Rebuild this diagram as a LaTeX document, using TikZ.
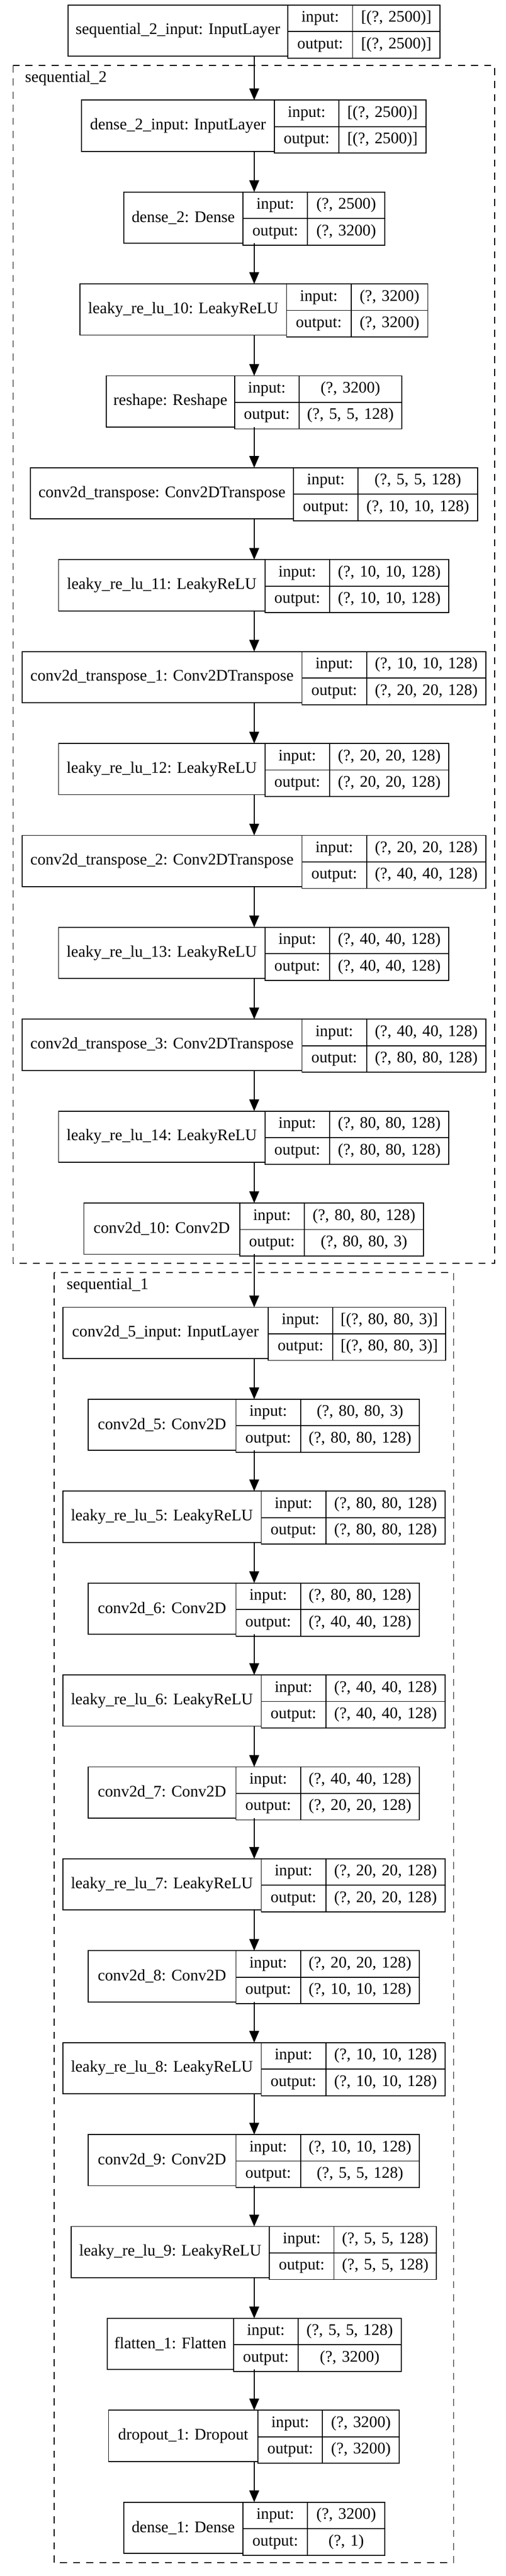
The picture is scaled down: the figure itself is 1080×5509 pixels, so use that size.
\documentclass[tikz,border=0pt]{standalone}
\usepackage{fontspec}
\setmainfont{Liberation Serif}
\usepackage{tikz}
\usetikzlibrary{shapes.multipart, arrows.meta}

\newcommand{\inout}{\strut input:\nodepart{two}\strut output:}

\begin{document}
\begin{tikzpicture}
			[x=0.5pt, y=-0.5pt,
			every node/.style={font=\fontsize{17.25pt}{20pt}\selectfont, line width=1pt, outer sep=0pt},
			layer/.style={draw, anchor=north west, inner sep=0pt, minimum height=54.75pt},
			io/.style={draw, anchor=north west, rectangle split, rectangle split parts=2, inner xsep=0pt, inner ysep=3.6875pt, text width=69pt, align=center},
			dims/.style={io},
			cluster/.style={line width=1pt, dash pattern=on 7.5pt off 6.5pt},
			arr/.style={line width=1pt, -{Stealth[length=12.5pt, width=10.5pt, inset=0pt]}}]
			\fill[white] (0,0) rectangle (1080,5509);
			\coordinate (axis) at (543,0);
			\begin{scope}
				\draw[cluster] (28,140) rectangle (1057,2701.7);
				\node[anchor=base west] (s2label) at (47,175.7) {sequential\_2};
				\draw[cluster] (116,2721) rectangle (969,5480.7);
				\node[anchor=base west] (s1label) at (136,2757) {sequential\_1};
			\end{scope}
			\node[layer, minimum width=235pt] (s2in) at (145,10.7) {sequential\_2\_input: InputLayer};
			\node[io] (s2inio) at (s2in.north east) {\inout};
			\node[dims, text width=93.5pt] (s2insh) at (s2inio.north east) {\strut [(?, 2500)]\nodepart{two}\strut [(?, 2500)]};
			\node[layer, minimum width=205.75pt] (d2in) at (174.5,214) {dense\_2\_input: InputLayer};
			\node[io] (d2inio) at (d2in.north east) {\inout};
			\node[dims, text width=93pt] (d2insh) at (d2inio.north east) {\strut [(?, 2500)]\nodepart{two}\strut [(?, 2500)]};
			\node[layer, minimum width=127.5pt] (d2) at (264,410.56) {dense\_2: Dense};
			\node[io] (d2io) at (d2.north east) {\inout};
			\node[dims, text width=82.5pt] (d2sh) at (d2io.north east) {\strut (?, 2500)\nodepart{two}\strut (?, 3200)};
			\node[layer, minimum width=220.5pt] (lr10) at (171,607.12) {leaky\_re\_lu\_10: LeakyReLU};
			\node[io] (lr10io) at (lr10.north east) {\inout};
			\node[dims, text width=82pt] (lr10sh) at (lr10io.north east) {\strut (?, 3200)\nodepart{two}\strut (?, 3200)};
			\node[layer, minimum width=137pt] (rs) at (227,803.68) {reshape: Reshape};
			\node[io] (rsio) at (rs.north east) {\inout};
			\node[dims, text width=109.5pt] (rssh) at (rsio.north east) {\strut (?, 3200)\nodepart{two}\strut (?, 5, 5, 128)};
			\node[layer, minimum width=281pt] (ct0) at (65,1000.24) {conv2d\_transpose: Conv2DTranspose};
			\node[io] (ct0io) at (ct0.north east) {\inout};
			\node[dims, text width=127.5pt] (ct0sh) at (ct0io.north east) {\strut (?, 5, 5, 128)\nodepart{two}\strut (?, 10, 10, 128)};
			\node[layer, minimum width=220.5pt] (lr11) at (125,1196.8) {leaky\_re\_lu\_11: LeakyReLU};
			\node[io] (lr11io) at (lr11.north east) {\inout};
			\node[dims, text width=127.5pt] (lr11sh) at (lr11io.north east) {\strut (?, 10, 10, 128)\nodepart{two}\strut (?, 10, 10, 128)};
			\node[layer, minimum width=299pt] (ct1) at (47,1393.36) {conv2d\_transpose\_1: Conv2DTranspose};
			\node[io] (ct1io) at (ct1.north east) {\inout};
			\node[dims, text width=127.5pt] (ct1sh) at (ct1io.north east) {\strut (?, 10, 10, 128)\nodepart{two}\strut (?, 20, 20, 128)};
			\node[layer, minimum width=220.5pt] (lr12) at (125,1589.92) {leaky\_re\_lu\_12: LeakyReLU};
			\node[io] (lr12io) at (lr12.north east) {\inout};
			\node[dims, text width=127.5pt] (lr12sh) at (lr12io.north east) {\strut (?, 20, 20, 128)\nodepart{two}\strut (?, 20, 20, 128)};
			\node[layer, minimum width=299pt] (ct2) at (47,1786.48) {conv2d\_transpose\_2: Conv2DTranspose};
			\node[io] (ct2io) at (ct2.north east) {\inout};
			\node[dims, text width=127.5pt] (ct2sh) at (ct2io.north east) {\strut (?, 20, 20, 128)\nodepart{two}\strut (?, 40, 40, 128)};
			\node[layer, minimum width=220.5pt] (lr13) at (125,1983.04) {leaky\_re\_lu\_13: LeakyReLU};
			\node[io] (lr13io) at (lr13.north east) {\inout};
			\node[dims, text width=127.5pt] (lr13sh) at (lr13io.north east) {\strut (?, 40, 40, 128)\nodepart{two}\strut (?, 40, 40, 128)};
			\node[layer, minimum width=299pt] (ct3) at (47,2179.6) {conv2d\_transpose\_3: Conv2DTranspose};
			\node[io] (ct3io) at (ct3.north east) {\inout};
			\node[dims, text width=127.5pt] (ct3sh) at (ct3io.north east) {\strut (?, 40, 40, 128)\nodepart{two}\strut (?, 80, 80, 128)};
			\node[layer, minimum width=220.5pt] (lr14) at (125,2376.16) {leaky\_re\_lu\_14: LeakyReLU};
			\node[io] (lr14io) at (lr14.north east) {\inout};
			\node[dims, text width=127.5pt] (lr14sh) at (lr14io.north east) {\strut (?, 80, 80, 128)\nodepart{two}\strut (?, 80, 80, 128)};
			\node[layer, minimum width=166.5pt] (c10) at (179,2572.72) {conv2d\_10: Conv2D};
			\node[io] (c10io) at (c10.north east) {\inout};
			\node[dims, text width=127.5pt] (c10sh) at (c10io.north east) {\strut (?, 80, 80, 128)\nodepart{two}\strut (?, 80, 80, 3)};
			\node[layer, minimum width=219.5pt] (c5in) at (134,2795.7) {conv2d\_5\_input: InputLayer};
			\node[io] (c5inio) at (c5in.north east) {\inout};
			\node[dims, text width=120.5pt] (c5insh) at (c5inio.north east) {\strut [(?, 80, 80, 3)]\nodepart{two}\strut [(?, 80, 80, 3)]};
			\node[layer, minimum width=158pt] (c5) at (188,2992.26) {conv2d\_5: Conv2D};
			\node[io] (c5io) at (c5.north east) {\inout};
			\node[dims, text width=127pt] (c5sh) at (c5io.north east) {\strut (?, 80, 80, 3)\nodepart{two}\strut (?, 80, 80, 128)};
			\node[layer, minimum width=212pt] (lr5) at (134,3188.82) {leaky\_re\_lu\_5: LeakyReLU};
			\node[io] (lr5io) at (lr5.north east) {\inout};
			\node[dims, text width=127.5pt] (lr5sh) at (lr5io.north east) {\strut (?, 80, 80, 128)\nodepart{two}\strut (?, 80, 80, 128)};
			\node[layer, minimum width=158pt] (c6) at (188,3385.38) {conv2d\_6: Conv2D};
			\node[io] (c6io) at (c6.north east) {\inout};
			\node[dims, text width=127pt] (c6sh) at (c6io.north east) {\strut (?, 80, 80, 128)\nodepart{two}\strut (?, 40, 40, 128)};
			\node[layer, minimum width=212pt] (lr6) at (134,3581.94) {leaky\_re\_lu\_6: LeakyReLU};
			\node[io] (lr6io) at (lr6.north east) {\inout};
			\node[dims, text width=127.5pt] (lr6sh) at (lr6io.north east) {\strut (?, 40, 40, 128)\nodepart{two}\strut (?, 40, 40, 128)};
			\node[layer, minimum width=158pt] (c7) at (188,3778.5) {conv2d\_7: Conv2D};
			\node[io] (c7io) at (c7.north east) {\inout};
			\node[dims, text width=127pt] (c7sh) at (c7io.north east) {\strut (?, 40, 40, 128)\nodepart{two}\strut (?, 20, 20, 128)};
			\node[layer, minimum width=212pt] (lr7) at (134,3975.06) {leaky\_re\_lu\_7: LeakyReLU};
			\node[io] (lr7io) at (lr7.north east) {\inout};
			\node[dims, text width=127.5pt] (lr7sh) at (lr7io.north east) {\strut (?, 20, 20, 128)\nodepart{two}\strut (?, 20, 20, 128)};
			\node[layer, minimum width=158pt] (c8) at (188,4171.62) {conv2d\_8: Conv2D};
			\node[io] (c8io) at (c8.north east) {\inout};
			\node[dims, text width=127pt] (c8sh) at (c8io.north east) {\strut (?, 20, 20, 128)\nodepart{two}\strut (?, 10, 10, 128)};
			\node[layer, minimum width=212pt] (lr8) at (134,4368.18) {leaky\_re\_lu\_8: LeakyReLU};
			\node[io] (lr8io) at (lr8.north east) {\inout};
			\node[dims, text width=127.5pt] (lr8sh) at (lr8io.north east) {\strut (?, 10, 10, 128)\nodepart{two}\strut (?, 10, 10, 128)};
			\node[layer, minimum width=158pt] (c9) at (188,4564.74) {conv2d\_9: Conv2D};
			\node[io] (c9io) at (c9.north east) {\inout};
			\node[dims, text width=127pt] (c9sh) at (c9io.north east) {\strut (?, 10, 10, 128)\nodepart{two}\strut (?, 5, 5, 128)};
			\node[layer, minimum width=211.75pt] (lr9) at (152,4761.3) {leaky\_re\_lu\_9: LeakyReLU};
			\node[io] (lr9io) at (lr9.north east) {\inout};
			\node[dims, text width=109.5pt] (lr9sh) at (lr9io.north east) {\strut (?, 5, 5, 128)\nodepart{two}\strut (?, 5, 5, 128)};
			\node[layer, minimum width=135pt] (fl1) at (229,4957.86) {flatten\_1: Flatten};
			\node[io] (fl1io) at (fl1.north east) {\inout};
			\node[dims, text width=110pt] (fl1sh) at (fl1io.north east) {\strut (?, 5, 5, 128)\nodepart{two}\strut (?, 3200)};
			\node[layer, minimum width=159.5pt] (do1) at (232,5154.42) {dropout\_1: Dropout};
			\node[io] (do1io) at (do1.north east) {\inout};
			\node[dims, text width=82pt] (do1sh) at (do1io.north east) {\strut (?, 3200)\nodepart{two}\strut (?, 3200)};
			\node[layer, minimum width=127.5pt] (d1) at (264,5350.98) {dense\_1: Dense};
			\node[io] (d1io) at (d1.north east) {\inout};
			\node[dims, text width=82.5pt] (d1sh) at (d1io.north east) {\strut (?, 3200)\nodepart{two}\strut (?, 1)};
			\begin{scope}[arr]
				\draw (s2in.south -| axis) -- (d2in.north -| axis);
				\draw (d2in.south -| axis) -- (d2.north -| axis);
				\draw (d2.south -| axis) -- (lr10.north -| axis);
				\draw (lr10.south -| axis) -- (rs.north -| axis);
				\draw (rs.south -| axis) -- (ct0.north -| axis);
				\draw (ct0.south -| axis) -- (lr11.north -| axis);
				\draw (lr11.south -| axis) -- (ct1.north -| axis);
				\draw (ct1.south -| axis) -- (lr12.north -| axis);
				\draw (lr12.south -| axis) -- (ct2.north -| axis);
				\draw (ct2.south -| axis) -- (lr13.north -| axis);
				\draw (lr13.south -| axis) -- (ct3.north -| axis);
				\draw (ct3.south -| axis) -- (lr14.north -| axis);
				\draw (lr14.south -| axis) -- (c10.north -| axis);
				\draw (c10.south -| axis) -- (c5in.north -| axis);
				\draw (c5in.south -| axis) -- (c5.north -| axis);
				\draw (c5.south -| axis) -- (lr5.north -| axis);
				\draw (lr5.south -| axis) -- (c6.north -| axis);
				\draw (c6.south -| axis) -- (lr6.north -| axis);
				\draw (lr6.south -| axis) -- (c7.north -| axis);
				\draw (c7.south -| axis) -- (lr7.north -| axis);
				\draw (lr7.south -| axis) -- (c8.north -| axis);
				\draw (c8.south -| axis) -- (lr8.north -| axis);
				\draw (lr8.south -| axis) -- (c9.north -| axis);
				\draw (c9.south -| axis) -- (lr9.north -| axis);
				\draw (lr9.south -| axis) -- (fl1.north -| axis);
				\draw (fl1.south -| axis) -- (do1.north -| axis);
				\draw (do1.south -| axis) -- (d1.north -| axis);
			\end{scope}
		\end{tikzpicture}
\end{document}
